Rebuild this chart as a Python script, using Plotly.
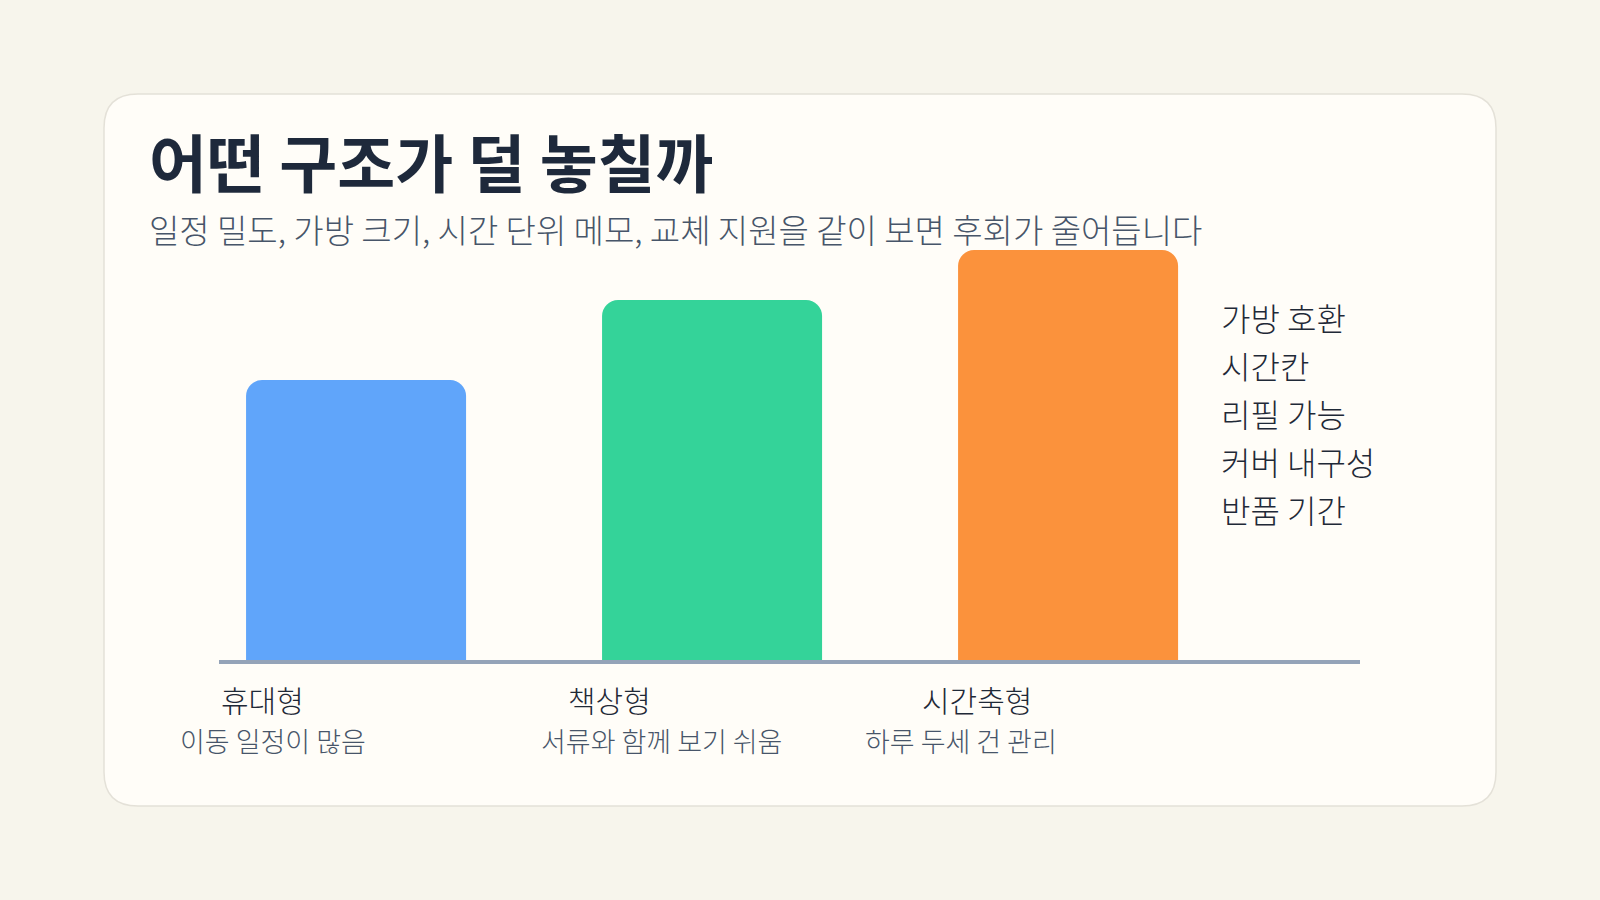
import plotly.graph_objects as go

# ---- data ----
categories = ["휴대형", "책상형", "시간축형"]
subtitles = ["이동 일정이 많음", "서류와 함께 보기 쉬움", "하루 두세 건 관리"]
values = [56, 72, 82]
bar_colors = ["#60a5fa", "#34d399", "#fb923c"]
checklist = ["가방 호환", "시간칸", "리필 가능", "커버 내구성", "반품 기간"]
title_text = "어떤 구조가 덜 놓칠까"
subtitle_text = "일정 밀도, 가방 크기, 시간 단위 메모, 교체 지원을 같이 보면 후회가 줄어듭니다"

FONT = "Noto Sans CJK KR"
W, H = 1600, 900
L, R, T, B = 219, 240, 160, 240
pw, ph = W - L - R, H - T - B

def px_x(p):
    return (p - L) / pw

def px_y(p):
    return (H - B - p) / ph

fig = go.Figure()
fig.add_trace(go.Bar(
    x=list(range(len(categories))), y=values,
    marker=dict(color=bar_colors, line=dict(width=0)),
    width=0.618, hoverinfo="skip",
))

# card with rounded corners
x0, x1, y0, y1, r = 104, 1496, 94, 806, 34
def P(x, y):
    return f"{px_x(x):.5f},{px_y(y):.5f}"
card_path = (
    f"M {P(x0 + r, y0)} L {P(x1 - r, y0)} Q {P(x1, y0)} {P(x1, y0 + r)} "
    f"L {P(x1, y1 - r)} Q {P(x1, y1)} {P(x1 - r, y1)} "
    f"L {P(x0 + r, y1)} Q {P(x0, y1)} {P(x0, y1 - r)} "
    f"L {P(x0, y0 + r)} Q {P(x0, y0)} {P(x0 + r, y0)} Z"
)
fig.add_shape(type="path", path=card_path, xref="paper", yref="paper",
              fillcolor="#fffdf8", line=dict(color="#e4e1d8", width=1.5), layer="below")

annotations = []
annotations.append(dict(text=f"<b>{title_text}</b>", xref="paper", yref="paper",
                        x=px_x(147), y=px_y(159), xanchor="left", yanchor="middle",
                        showarrow=False, font=dict(family=FONT, size=63, color="#1e293b")))
annotations.append(dict(text=subtitle_text, xref="paper", yref="paper",
                        x=px_x(147), y=px_y(229), xanchor="left", yanchor="middle",
                        showarrow=False, font=dict(family=FONT, size=33, weight=300, color="#475569")))

label_shift = [-94, -103, -91]
sub_shift = [-83, -51, -107]
for i, (c, s) in enumerate(zip(categories, subtitles)):
    annotations.append(dict(text=c, x=i, xref="x", y=px_y(699), yref="paper",
                            xshift=label_shift[i], xanchor="center", yanchor="middle",
                            showarrow=False, font=dict(family=FONT, size=30, weight=300, color="#1f2937")))
    annotations.append(dict(text=s, x=i, xref="x", y=px_y(740), yref="paper",
                            xshift=sub_shift[i], xanchor="center", yanchor="middle",
                            showarrow=False, font=dict(family=FONT, size=27, weight=300, color="#475569")))

for j, item in enumerate(checklist):
    annotations.append(dict(text=item, xref="paper", yref="paper",
                            x=px_x(1219), y=px_y(317 + 48 * j), xanchor="left", yanchor="middle",
                            showarrow=False, font=dict(family=FONT, size=32, weight=300, color="#1f2937")))

fig.update_layout(
    width=W, height=H,
    margin=dict(l=L, r=R, t=T, b=B, autoexpand=False),
    paper_bgcolor="#f7f5ec", plot_bgcolor="rgba(0,0,0,0)",
    barcornerradius=16,
    showlegend=False,
    annotations=annotations,
    xaxis=dict(range=[-0.385, 2.82], showgrid=False, zeroline=False, showticklabels=False,
               ticks="", showline=True, linecolor="#94a3b8", linewidth=4, fixedrange=True),
    yaxis=dict(range=[0, 100], showgrid=False, zeroline=False, showticklabels=False,
               ticks="", showline=False, fixedrange=True),
)

fig.write_html("out.html", config={"displayModeBar": False},
               post_script="document.body.style.margin='0';document.body.style.background='#f7f5ec';")
